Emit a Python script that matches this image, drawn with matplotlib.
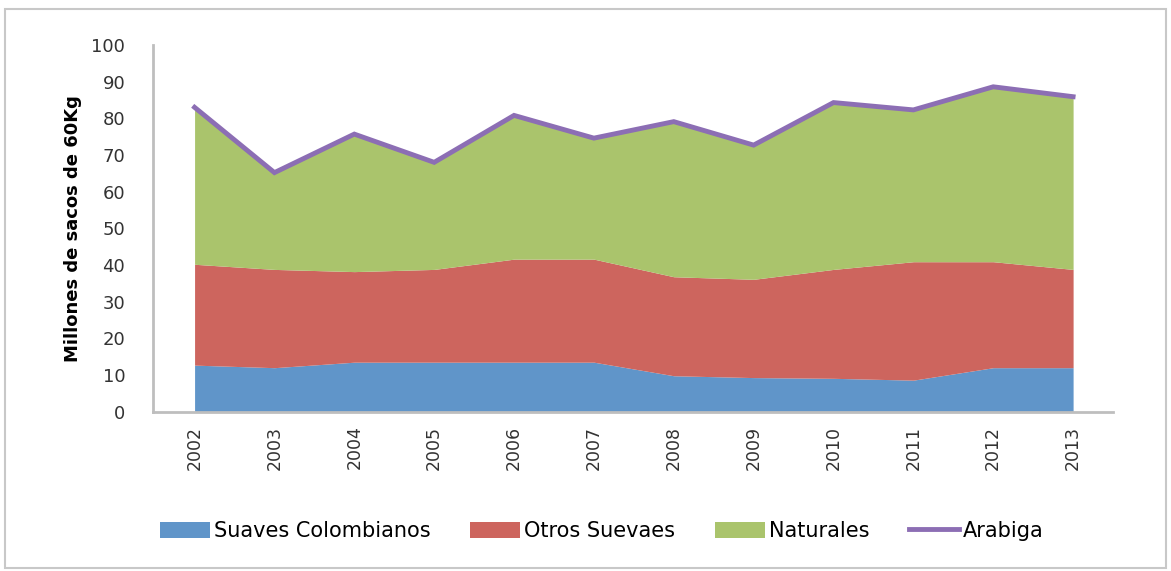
import matplotlib
matplotlib.use("Agg")
import matplotlib.pyplot as plt
from matplotlib.patches import Rectangle, Patch
from matplotlib.lines import Line2D
import numpy as np

years = ["2002", "2003", "2004", "2005", "2006", "2007", "2008", "2009", "2010", "2011", "2012", "2013"]
suaves_colombianos = [12.7, 12.0, 13.5, 13.5, 13.5, 13.5, 9.8, 9.3, 9.1, 8.6, 12.0, 12.0]
otros_suaves = [27.5, 26.8, 24.7, 25.3, 28.1, 28.1, 27.0, 26.8, 29.7, 32.3, 28.9, 26.8]
naturales = [42.8, 26.4, 37.5, 29.2, 39.2, 33.0, 42.3, 36.6, 45.5, 41.4, 47.7, 47.1]
arabiga = [83.0, 65.2, 75.7, 68.0, 80.8, 74.6, 79.1, 72.7, 84.3, 82.3, 88.6, 85.9]

c_blue = "#6095C9"
c_red = "#CD655E"
c_green = "#AAC46C"
c_purple = "#8C6EB4"
c_axis = "#BEBEBE"

plt.rcParams['font.family'] = ['DejaVu Sans']

fig = plt.figure(figsize=(11.71, 5.71), dpi=100)
ax = fig.add_axes([0.1307, 0.279, 0.8198, 0.6422])

x = np.arange(len(years))
s1 = np.array(suaves_colombianos)
s2 = s1 + np.array(otros_suaves)
s3 = s2 + np.array(naturales)

ax.fill_between(x, 0, s1, color=c_blue, linewidth=0)
ax.fill_between(x, s1, s2, color=c_red, linewidth=0)
ax.fill_between(x, s2, s3, color=c_green, linewidth=0)
ax.plot(x, arabiga, color=c_purple, linewidth=3.5, solid_joinstyle='miter')

ax.set_xlim(-0.52, 11.5)
ax.set_ylim(0, 100)
ax.set_yticks(range(0, 101, 10))
ax.set_xticks(x)
ax.set_xticklabels(years, rotation=90, fontsize=12.5, color="#333333")
ax.tick_params(axis='y', length=0, pad=20, labelsize=13, labelcolor="#333333")
ax.tick_params(axis='x', length=0, pad=10)
for s in ['top', 'right']:
    ax.spines[s].set_visible(False)
for s in ['left', 'bottom']:
    ax.spines[s].set_color(c_axis)
    ax.spines[s].set_linewidth(2)

ax.set_ylabel("Millones de sacos de 60Kg", fontsize=13, fontweight='bold', labelpad=7)

handles = [
    Patch(facecolor=c_blue, edgecolor='none'),
    Patch(facecolor=c_red, edgecolor='none'),
    Patch(facecolor=c_green, edgecolor='none'),
    Line2D([0], [0], color=c_purple, linewidth=3.5),
]
labels = ["Suaves Colombianos", "Otros Suevaes", "Naturales", "Arabiga"]
fig.legend(handles, labels, loc='center', bbox_to_anchor=(0.514, 0.07), ncol=4,
           frameon=False, fontsize=15, handlelength=2.4, handleheight=0.8,
           handletextpad=0.2, columnspacing=1.9)

fig.patches.append(Rectangle((0.004, 0.006), 0.992, 0.978, transform=fig.transFigure,
                             fill=False, edgecolor="#C8C8C8", linewidth=1.5))

fig.savefig("out.png", dpi=100)
